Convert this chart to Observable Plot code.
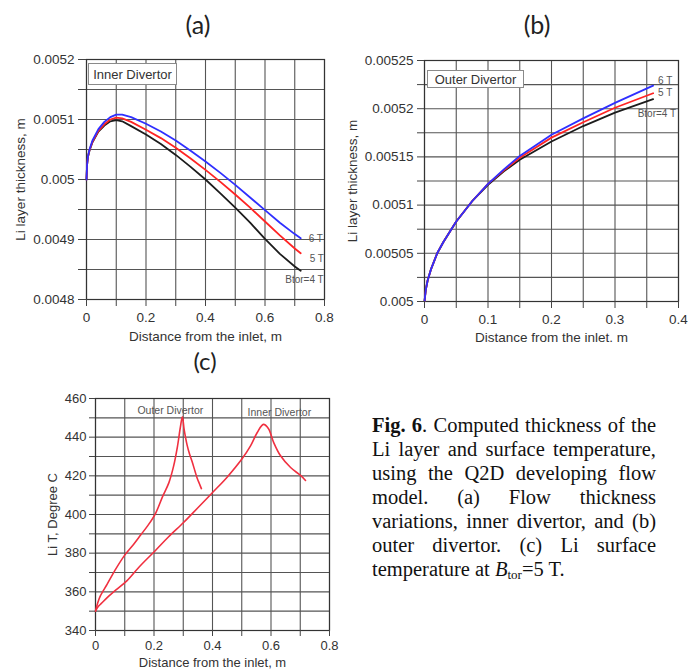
<!DOCTYPE html>
<html>
<head>
<meta charset="utf-8">
<script src="https://cdn.jsdelivr.net/npm/d3@7"></script>
<script src="https://cdn.jsdelivr.net/npm/@observablehq/plot@0.6"></script>
<style>
  html, body { margin: 0; padding: 0; background: #fff; }
  body { width: 696px; height: 669px; position: relative; overflow: hidden; font-family: 'Liberation Sans', Arial, sans-serif; }
  .pane { position: absolute; }
  .pane svg { overflow: visible; }
  .title { position: absolute; font-family: Lato, 'Open Sans', sans-serif; font-size: 25px; line-height: 25px; color: #222; transform: translateX(-50%); white-space: nowrap; }
  .box { position: absolute; box-sizing: border-box; border: 1.5px solid #8a8a8a; background: #fff; font-size: 13px; color: #333; display: flex; align-items: center; justify-content: center; white-space: nowrap; }
  .cap { position: absolute; left: 372px; top: 413px; width: 284px; font-family: 'Liberation Serif', 'Times New Roman', serif; font-size: 20.5px; line-height: 24px; color: #111; }
  .cap div { white-space: nowrap; }
  .cap .j { text-align: justify; text-align-last: justify; }
  .cap sub { font-size: 13px; vertical-align: -3px; line-height: 0; }
</style>
</head>
<body>
<div class="title" style="left:198px; top:12px;">(a)</div>
<div class="title" style="left:537px; top:12px;">(b)</div>
<div class="title" style="left:205px; top:349px; font-size:24px; line-height:24px;">(c)</div>

<div class="pane" id="pa" style="left:0px; top:40px;"></div>
<div class="pane" id="pb" style="left:340px; top:40px;"></div>
<div class="pane" id="pc" style="left:40px; top:380px;"></div>

<div class="box" style="left:88px; top:63px; width:89px; height:22px;">Inner Divertor</div>
<div class="box" style="left:427px; top:70px; width:97px; height:18px;">Outer Divertor</div>

<div class="cap">
  <div class="j"><b>Fig. 6</b>. Computed thickness of the</div>
  <div class="j">Li layer and surface temperature,</div>
  <div class="j">using the Q2D developing flow</div>
  <div class="j">model. (a) Flow thickness</div>
  <div class="j">variations, inner divertor, and (b)</div>
  <div class="j">outer divertor. (c) Li surface</div>
  <div>temperature at <i>B</i><sub>tor</sub>=5 T.</div>
</div>

<script>
// ---------- Panel (a): Inner divertor thickness ----------
const xA = [0, 0.002, 0.005, 0.01, 0.02, 0.04, 0.06, 0.08, 0.1, 0.12, 0.15, 0.2, 0.25, 0.3, 0.35, 0.4, 0.45, 0.5, 0.55, 0.6, 0.65, 0.7, 0.72];
const a4T = [0.005, 0.005025, 0.005038, 0.005048, 0.005062, 0.00508, 0.00509, 0.005097, 0.005099, 0.005097, 0.005089, 0.005075, 0.005059, 0.005041, 0.005021, 0.005, 0.004977, 0.004953, 0.004928, 0.004901, 0.004876, 0.004855, 0.004848];
const a5T = [0.005, 0.005025, 0.005038, 0.005049, 0.005063, 0.005081, 0.005092, 0.0051, 0.005103, 0.005102, 0.005096, 0.005083, 0.005069, 0.005053, 0.005035, 0.005016, 0.004996, 0.004975, 0.004953, 0.00493, 0.004907, 0.004885, 0.004877];
const a6T = [0.005, 0.005025, 0.005039, 0.00505, 0.005065, 0.005084, 0.005096, 0.005104, 0.005108, 0.005108, 0.005104, 0.005093, 0.00508, 0.005065, 0.005048, 0.00503, 0.005011, 0.004991, 0.00497, 0.004949, 0.004928, 0.004909, 0.004902];
const xTicksA = [0, 0.2, 0.4, 0.6, 0.8];
const xGridA = [0, 0.1, 0.2, 0.3, 0.4, 0.5, 0.6, 0.7, 0.8];
const yTicksA = [0.0048, 0.0049, 0.005, 0.0051, 0.0052];
const yGridA = [0.0048, 0.00485, 0.0049, 0.00495, 0.005, 0.00505, 0.0051, 0.00515, 0.0052];

// ---------- Panel (b): Outer divertor thickness ----------
const xB = [0, 0.002, 0.005, 0.01, 0.02, 0.03, 0.05, 0.075, 0.1, 0.125, 0.15, 0.2, 0.25, 0.3, 0.36];
const b4T = [0.005, 0.005012, 0.005022, 0.005033, 0.00505, 0.005062, 0.005083, 0.005104, 0.005121, 0.005135, 0.005147, 0.005166, 0.005182, 0.005196, 0.00521];
const b5T = [0.005, 0.005012, 0.005022, 0.005033, 0.00505, 0.005062, 0.005083, 0.005104, 0.005122, 0.005136, 0.005149, 0.00517, 0.005186, 0.005201, 0.005216];
const b6T = [0.005, 0.005012, 0.005022, 0.005033, 0.00505, 0.005062, 0.005083, 0.005104, 0.005122, 0.005137, 0.005151, 0.005173, 0.00519, 0.005206, 0.005224];
const xTicksB = [0, 0.1, 0.2, 0.3, 0.4];
const xGridB = [0, 0.05, 0.1, 0.15, 0.2, 0.25, 0.3, 0.35, 0.4];
const yTicksB = [0.005, 0.00505, 0.0051, 0.00515, 0.0052, 0.00525];
const yGridB = [0.005, 0.005025, 0.00505, 0.005075, 0.0051, 0.005125, 0.00515, 0.005175, 0.0052, 0.005225, 0.00525];

// ---------- Panel (c): Li surface temperature ----------
const xOuter = [0, 0.008, 0.017, 0.04, 0.07, 0.1, 0.13, 0.155, 0.18, 0.205, 0.23, 0.251, 0.267, 0.28, 0.29, 0.297, 0.303, 0.313, 0.322, 0.331, 0.34, 0.348, 0.355, 0.362];
const tOuter = [350, 354.5, 358, 364, 372, 379, 384.5, 389.5, 394.5, 400.5, 409.5, 416.5, 425, 435, 445, 450.5, 444, 436, 431, 427, 422.5, 418.6, 416, 413.4];
const xInner = [0, 0.01, 0.02, 0.04, 0.07, 0.108, 0.15, 0.205, 0.25, 0.302, 0.35, 0.401, 0.45, 0.501, 0.53, 0.553, 0.574, 0.591, 0.609, 0.632, 0.667, 0.701, 0.718];
const tInner = [350, 352.5, 354, 357, 361, 365.8, 373, 381.4, 388.5, 396, 403.5, 411.5, 419.3, 428.8, 435.5, 442.4, 446.6, 444.5, 437.3, 430.5, 424.3, 420.2, 417.6];
const xTicksC = [0, 0.2, 0.4, 0.6, 0.8];
const xGridC = [0, 0.1, 0.2, 0.3, 0.4, 0.5, 0.6, 0.7, 0.8];
const yTicksC = [340, 360, 380, 400, 420, 440, 460];
const yGridC = [340, 350, 360, 370, 380, 390, 400, 410, 420, 430, 440, 450, 460];

const seriesNames = ["Btor=4 T", "5 T", "6 T"];
const seriesColors = ["#1c1c1c", "#ff2424", "#2f2fff"];

const pts = (xs, ys) => xs.map((x, i) => ({x, y: ys[i]}));
const last = (xs, ys) => [{x: xs[xs.length - 1], y: ys[ys.length - 1]}];

function basePanel(o) {
  const marks = [
    Plot.gridX(o.xGrid, {stroke: "#555", strokeOpacity: 1, strokeWidth: 1.1}),
    Plot.gridY(o.yGrid, {stroke: "#555", strokeOpacity: 1, strokeWidth: 1.1}),
    Plot.frame({stroke: "#333", strokeWidth: 1.2}),
    ...o.marks,
    Plot.axisX({
      ticks: o.xGrid, tickSize: o.xTickSize, tickPadding: o.xTickPadding, stroke: "#444",
      tickFormat: d => o.xTicks.includes(d) ? String(d) : "",
      label: o.xLabel, labelAnchor: "center", labelOffset: o.xLabelOffset, labelArrow: "none"
    }),
    Plot.axisY({
      ticks: o.yGrid, tickSize: o.yTickSize, tickPadding: o.yTickPadding, stroke: "#444",
      tickFormat: d => o.yTicks.includes(d) ? String(d) : "",
      label: o.yLabel, labelAnchor: "center", labelOffset: o.yLabelOffset, labelArrow: "none"
    })
  ];
  return Plot.plot({
    width: o.width, height: o.height,
    marginLeft: o.ml, marginRight: o.mr, marginTop: o.mt, marginBottom: o.mb,
    x: {domain: o.xDomain}, y: {domain: o.yDomain},
    style: {fontFamily: "'Liberation Sans', Arial, sans-serif", fontSize: o.fontSize, color: "#333", background: "transparent", overflow: "visible"},
    marks
  });
}

function lineMarks(xs, ysList) {
  return ysList.map((ys, i) => Plot.line(pts(xs, ys), {x: "x", y: "y", stroke: seriesColors[i], strokeWidth: 1.8}));
}

const smallLbl = {fontSize: 10, fill: "#555", fontFamily: "'Liberation Sans', Arial, sans-serif"};

// Panel (a)
document.getElementById("pa").append(basePanel({
  width: 340, height: 310, ml: 86, mr: 16, mt: 19, mb: 51,
  xDomain: [0, 0.8], yDomain: [0.0048, 0.0052],
  xGrid: xGridA, yGrid: yGridA, xTicks: xTicksA, yTicks: yTicksA,
  xTickSize: 7, xTickPadding: 6, yTickSize: 8, yTickPadding: 4,
  xLabel: "Distance from the inlet, m", xLabelOffset: 41,
  yLabel: "Li layer thickness, m", yLabelOffset: 71,
  fontSize: "13.5px",
  marks: [
    ...lineMarks(xA, [a4T, a5T, a6T]),
    Plot.text(last(xA, a6T), {x: "x", y: "y", text: () => seriesNames[2], textAnchor: "start", dx: 8, dy: 0, ...smallLbl}),
    Plot.text(last(xA, a5T), {x: "x", y: "y", text: () => seriesNames[1], textAnchor: "start", dx: 9, dy: 5, ...smallLbl}),
    Plot.text(last(xA, a4T), {x: "x", y: "y", text: () => seriesNames[0], textAnchor: "end", dx: 23, dy: 9, ...smallLbl})
  ]
}));

// Panel (b)
document.getElementById("pb").append(basePanel({
  width: 356, height: 310, ml: 84, mr: 18, mt: 20, mb: 49,
  xDomain: [0, 0.4], yDomain: [0.005, 0.00525],
  xGrid: xGridB, yGrid: yGridB, xTicks: xTicksB, yTicks: yTicksB,
  xTickSize: 7, xTickPadding: 6, yTickSize: 7, yTickPadding: 4,
  xLabel: "Distance from the inlet. m", xLabelOffset: 40,
  yLabel: "Li layer thickness, m", yLabelOffset: 77,
  fontSize: "13.5px",
  marks: [
    ...lineMarks(xB, [b4T, b5T, b6T]),
    Plot.text(last(xB, b6T), {x: "x", y: "y", text: () => seriesNames[2], textAnchor: "start", dx: 5, dy: -5, ...smallLbl}),
    Plot.text(last(xB, b5T), {x: "x", y: "y", text: () => seriesNames[1], textAnchor: "start", dx: 5, dy: 0, ...smallLbl}),
    Plot.text(last(xB, b4T), {x: "x", y: "y", text: () => seriesNames[0], textAnchor: "end", dx: 23, dy: 15, ...smallLbl})
  ]
}));

// Panel (c)
const peak = (xs, ys) => { const i = d3.maxIndex(ys); return [{x: xs[i], y: ys[i]}]; };
document.getElementById("pc").append(basePanel({
  width: 300, height: 289, ml: 55, mr: 11, mt: 18, mb: 39,
  xDomain: [0, 0.8], yDomain: [340, 460],
  xGrid: xGridC, yGrid: yGridC, xTicks: xTicksC, yTicks: yTicksC,
  xTickSize: 6, xTickPadding: 4, yTickSize: 6, yTickPadding: 3,
  xLabel: "Distance from the inlet, m", xLabelOffset: 36,
  yLabel: "Li T, Degree C", yLabelOffset: 48,
  fontSize: "13px",
  marks: [
    Plot.line(pts(xOuter, tOuter), {x: "x", y: "y", stroke: "#f03040", strokeWidth: 1.6, curve: "catmull-rom"}),
    Plot.line(pts(xInner, tInner), {x: "x", y: "y", stroke: "#f03040", strokeWidth: 1.6, curve: "catmull-rom"}),
    Plot.text(peak(xOuter, tOuter), {x: "x", y: "y", text: () => "Outer Divertor", dx: -12, dy: -6, fontSize: 10.5, fill: "#555"}),
    Plot.text(peak(xInner, tInner), {x: "x", y: "y", text: () => "Inner Divertor", dx: 16, dy: -12, fontSize: 10.5, fill: "#555"})
  ]
}));
</script>
</body>
</html>
